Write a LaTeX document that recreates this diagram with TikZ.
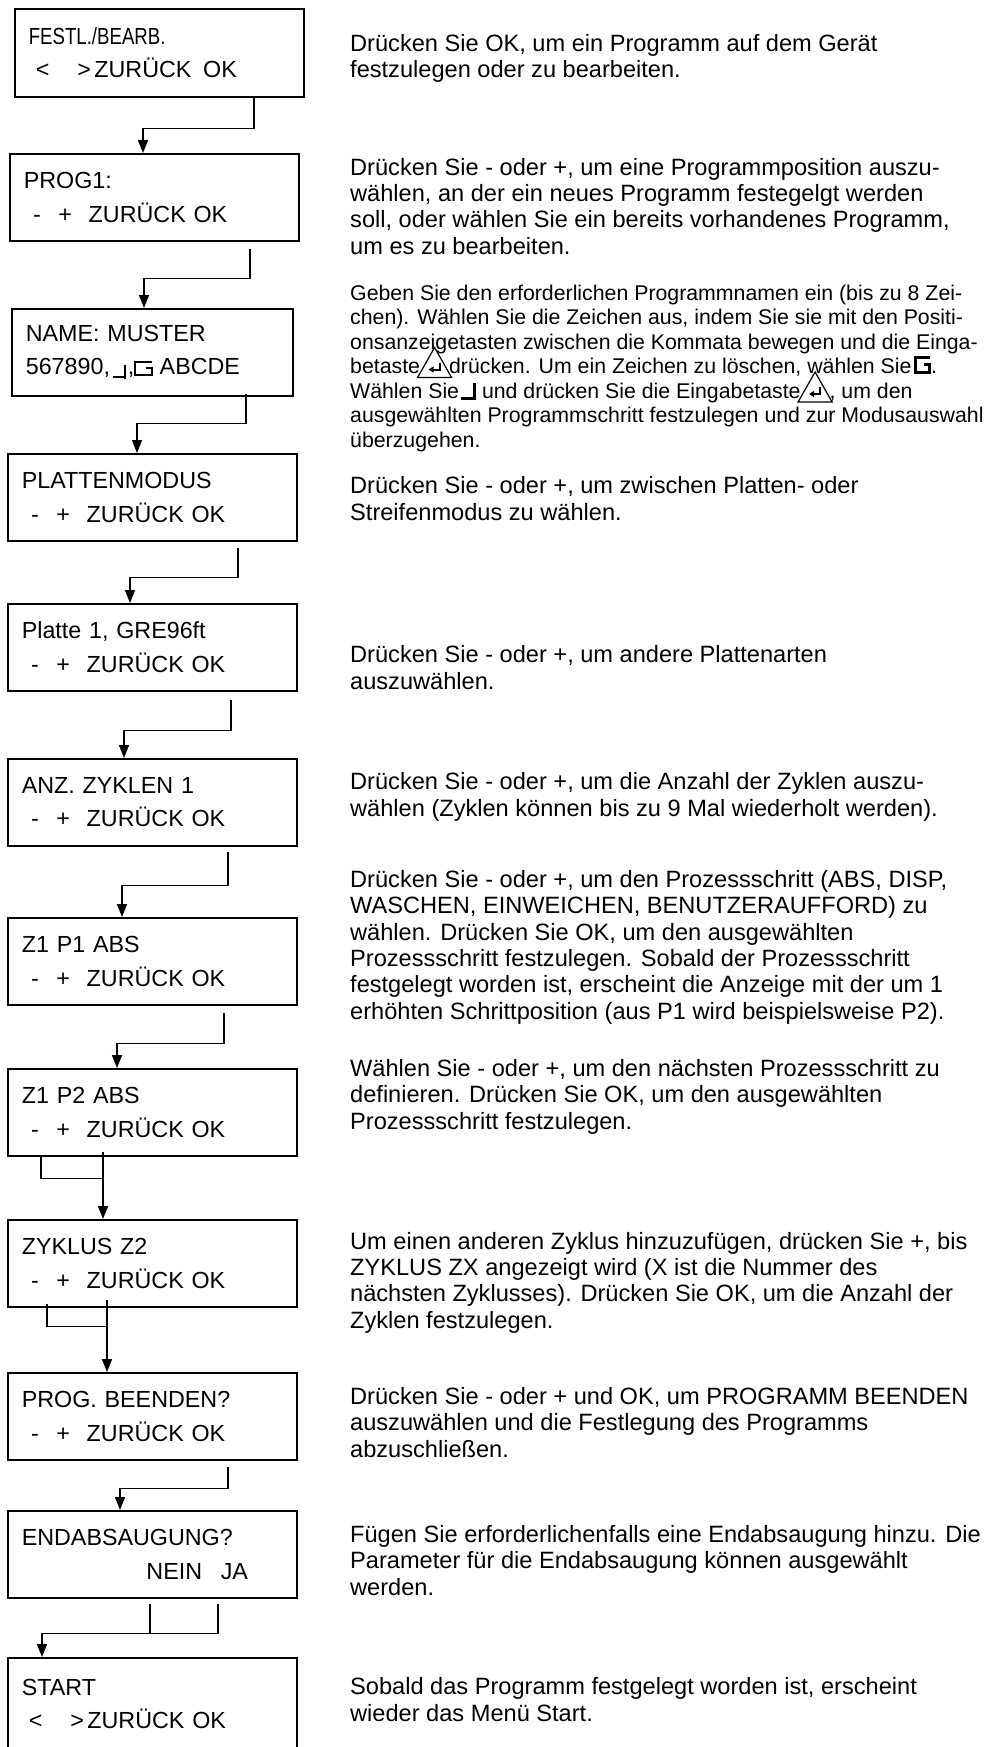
\documentclass[tikz,border=0pt]{standalone}
\usepackage{fontspec}
\setmainfont{Liberation Sans}
\usetikzlibrary{arrows.meta}

\newcommand{\lcdfont}{\fontsize{23.3}{33.5}\selectfont}
\newcommand{\descfont}{\fontsize{23.6}{26.3}\selectfont}
\newcommand{\smalldesc}{\fontsize{21.3}{24.5}\selectfont}
\newcommand{\spacesym}{\tikz[baseline=0pt,x=1pt,y=1pt,line width=1.3pt]\draw (0,-2) -- (12,-2) (12,-4) -- (12,10);}
\newcommand{\delsym}{\tikz[baseline=0pt,x=1pt,y=1pt,line width=1.3pt]\draw (17,13) -- (0,13) -- (0,0) -- (17,0) -- (17,7) -- (11,7);}
\newcommand{\spacesymb}{\smash{\tikz[baseline=0pt,x=1pt,y=1pt,line width=3pt]\draw (0,0) -- (14,0) (14,-1.5) -- (14,15);}}
\newcommand{\delsymb}{\smash{\tikz[baseline=0pt,x=1pt,y=1pt,line width=3pt]\draw (16,16) -- (1.5,16) -- (1.5,1.5) -- (16,1.5) -- (16,9) -- (10,9);}}
\newcommand{\entersym}{\smash{\makebox[29pt]{\tikz[baseline=0pt,x=1pt,y=1pt,line width=1.2pt]{\draw (-17,-4) -- (17,-4) -- (0,26) -- cycle; \draw[line width=2pt,-{Triangle[length=5pt,width=6pt]}] (5,11) -- (5,4) -- (-6,4);}}}}

\begin{document}
\begin{tikzpicture}[x=1pt,y=-1pt,>={Triangle[length=13pt,width=10pt]},
  lcd/.style={draw,line width=1.6pt,anchor=north west,minimum height=87pt,text width=261pt,align=left,inner xsep=14pt,inner ysep=0pt,font=\lcdfont},
  desc/.style={anchor=base west,align=left,inner sep=0pt,font=\descfont},
  flow/.style={line width=1.6pt}]
\clip (0,0) rectangle (988,1747);

\node[lcd,minimum height=88pt] (festl) at (14,8) {\scalebox{0.8}[1]{FESTL./BEARB.}\\\hspace*{0.3em}<\hspace{1.2em}>\hspace{0.15em}ZURÜCK\hspace{0.5em}OK};
\node[lcd] (prog) at (9,153) {PROG1:\\\hspace*{0.4em}-\hspace{0.75em}+\hspace{0.72em}ZURÜCK OK};
\node[lcd,text width=253pt] (name) at (11,308) {NAME: MUSTER\\567890,\hspace{0.1em}\spacesym\hspace{0.1em},\delsym\hspace{0.3em}ABCDE};
\node[lcd] (modus) at (7,453) {PLATTENMODUS\\\hspace*{0.4em}-\hspace{0.75em}+\hspace{0.72em}ZURÜCK OK};
\node[lcd] (platte) at (7,603) {Platte 1, GRE96ft\\\hspace*{0.4em}-\hspace{0.75em}+\hspace{0.72em}ZURÜCK OK};
\node[lcd] (zyklen) at (7,758) {ANZ. ZYKLEN 1\\\hspace*{0.4em}-\hspace{0.75em}+\hspace{0.72em}ZURÜCK OK};
\node[lcd] (zpa) at (7,917) {Z1 P1 ABS\\\hspace*{0.4em}-\hspace{0.75em}+\hspace{0.72em}ZURÜCK OK};
\node[lcd] (zpb) at (7,1068) {Z1 P2 ABS\\\hspace*{0.4em}-\hspace{0.75em}+\hspace{0.72em}ZURÜCK OK};
\node[lcd] (zyklus) at (7,1219) {ZYKLUS Z2\\\hspace*{0.4em}-\hspace{0.75em}+\hspace{0.72em}ZURÜCK OK};
\node[lcd] (beenden) at (7,1372) {PROG. BEENDEN?\\\hspace*{0.4em}-\hspace{0.75em}+\hspace{0.72em}ZURÜCK OK};
\node[lcd] (endabs) at (7,1510) {ENDABSAUGUNG?\\\hspace*{5.35em}NEIN\hspace{0.8em}JA};
\node[lcd,minimum height=92pt] (start) at (7,1657) {START\\\hspace*{0.3em}<\hspace{1.2em}>\hspace{0.15em}ZURÜCK OK};

\draw[flow,->] ([xshift=240pt]festl.south west) -- ++(0,31) -| ([xshift=134pt]prog.north west);
\draw[flow,->] ([shift={(241,7)}]prog.south west) -- ++(0,30) -| ([xshift=133pt]name.north west);
\draw[flow,->] ([shift={(235,-3)}]name.south west) -- ++(0,30) -| ([xshift=130pt]modus.north west);
\draw[flow,->] ([shift={(231,6)}]modus.south west) -- ++(0,30) -| ([xshift=123pt]platte.north west);
\draw[flow,->] ([shift={(224,8)}]platte.south west) -- ++(0,31) -| ([xshift=117pt]zyklen.north west);
\draw[flow,->] ([shift={(221,5)}]zyklen.south west) -- ++(0,34) -| ([xshift=115pt]zpa.north west);
\draw[flow,->] ([shift={(217,7)}]zpa.south west) -- ++(0,31) -| ([xshift=110pt]zpb.north west);
\draw[flow,->] ([shift={(96,-5)}]zpb.south west) -- ([xshift=96pt]zyklus.north west);
\draw[flow] ([xshift=34pt]zpb.south west) |- ([shift={(96,22)}]zpb.south west);
\draw[flow,->] ([shift={(100,-8)}]zyklus.south west) -- ([xshift=100pt]beenden.north west);
\draw[flow] ([shift={(40,-4)}]zyklus.south west) |- ([shift={(100,19)}]zyklus.south west);
\draw[flow,->] ([shift={(221,6)}]beenden.south west) -- ++(0,22) -| ([xshift=113pt]endabs.north west);
\draw[flow] ([shift={(143,5)}]endabs.south west) -- ++(0,30);
\draw[flow,->] ([shift={(211,5)}]endabs.south west) -- ++(0,30) -| ([xshift=35pt]start.north west);

\node[desc] (dfestl) at (350,78) {Drücken Sie OK, um ein Programm auf dem Gerät\\festzulegen oder zu bearbeiten.};
\node[desc] (dprog) at (350,254) {Drücken Sie - oder +, um eine Programmposition auszu-\\wählen, an der ein neues Programm festegelgt werden\\soll, oder wählen Sie ein bereits vorhandenes Programm,\\um es zu bearbeiten.};
\node[desc,font=\smalldesc] (dname) at (350,447) {Geben Sie den erforderlichen Programmnamen ein (bis zu 8 Zei-\\chen). Wählen Sie die Zeichen aus, indem Sie sie mit den Positi-\\onsanzeigetasten zwischen die Kommata bewegen und die Einga-\\betaste\entersym drücken. Um ein Zeichen zu löschen, wählen Sie\hspace{2pt}\delsymb.\\Wählen Sie\spacesymb{} und drücken Sie die Eingabetaste\entersym, um den\\ausgewählten Programmschritt festzulegen und zur Modusauswahl\\überzugehen.};
\node[desc] (dmodus) at (350,520) {Drücken Sie - oder +, um zwischen Platten- oder\\Streifenmodus zu wählen.};
\node[desc] (dplatte) at (350,689) {Drücken Sie - oder +, um andere Plattenarten\\auszuwählen.};
\node[desc] (dzyklen) at (350,816) {Drücken Sie - oder +, um die Anzahl der Zyklen auszu-\\wählen (Zyklen können bis zu 9 Mal wiederholt werden).};
\node[desc] (dzpa) at (350,1019) {Drücken Sie - oder +, um den Prozessschritt (ABS, DISP,\\WASCHEN, EINWEICHEN, BENUTZERAUFFORD) zu\\wählen. Drücken Sie OK, um den ausgewählten\\Prozessschritt festzulegen. Sobald der Prozessschritt\\festgelegt worden ist, erscheint die Anzeige mit der um 1\\erhöhten Schrittposition (aus P1 wird beispielsweise P2).};
\node[desc] (dzpb) at (350,1129) {Wählen Sie - oder +, um den nächsten Prozessschritt zu\\definieren. Drücken Sie OK, um den ausgewählten\\Prozessschritt festzulegen.};
\node[desc] (dzyklus) at (350,1328) {Um einen anderen Zyklus hinzuzufügen, drücken Sie +, bis\\ZYKLUS ZX angezeigt wird (X ist die Nummer des\\nächsten Zyklusses). Drücken Sie OK, um die Anzahl der\\Zyklen festzulegen.};
\node[desc] (dbeenden) at (350,1457) {Drücken Sie - oder + und OK, um PROGRAMM BEENDEN\\auszuwählen und die Festlegung des Programms\\abzuschließen.};
\node[desc] (dendabs) at (350,1595) {Fügen Sie erforderlichenfalls eine Endabsaugung hinzu. Die\\Parameter für die Endabsaugung können ausgewählt\\werden.};
\node[desc] (dstart) at (350,1721) {Sobald das Programm festgelegt worden ist, erscheint\\wieder das Menü Start.};
\end{tikzpicture}
\end{document}
